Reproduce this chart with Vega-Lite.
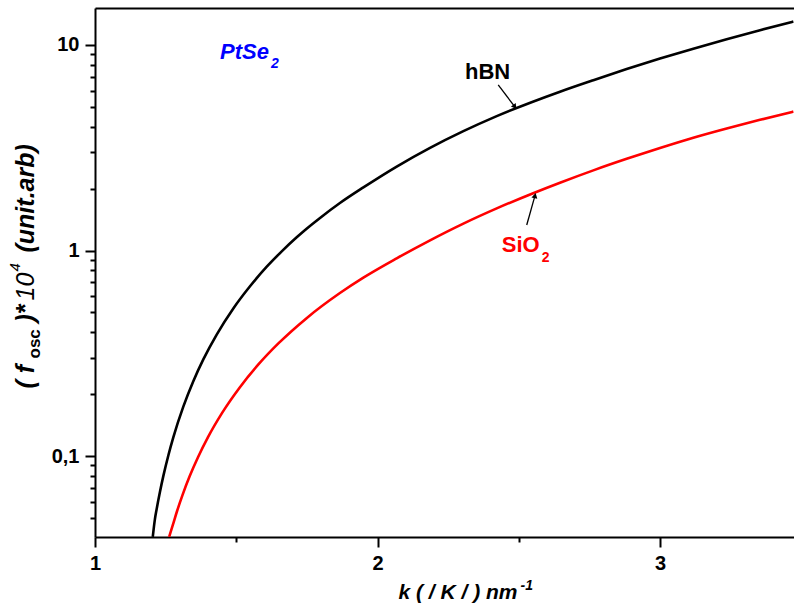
{
  "$schema": "https://vega.github.io/schema/vega-lite/v6.json",
  "autosize": {"type": "none"},
  "padding": {"left": 95, "top": 8, "right": 0, "bottom": 79},
  "width": 699,
  "height": 529,
  "background": "white",
  "config": {"view": {"stroke": null}, "font": "Liberation Sans"},
  "datasets": {
    "curves": [
      {"series": "hBN", "k": 1.2045, "f": 0.04046},
      {"series": "hBN", "k": 1.212, "f": 0.0492},
      {"series": "hBN", "k": 1.218, "f": 0.05495},
      {"series": "hBN", "k": 1.230, "f": 0.06699},
      {"series": "hBN", "k": 1.2418, "f": 0.0798},
      {"series": "hBN", "k": 1.260, "f": 0.1012},
      {"series": "hBN", "k": 1.2772, "f": 0.1232},
      {"series": "hBN", "k": 1.3126, "f": 0.1738},
      {"series": "hBN", "k": 1.348, "f": 0.2312},
      {"series": "hBN", "k": 1.3834, "f": 0.2951},
      {"series": "hBN", "k": 1.4308, "f": 0.3899},
      {"series": "hBN", "k": 1.4896, "f": 0.5224},
      {"series": "hBN", "k": 1.5487, "f": 0.6699},
      {"series": "hBN", "k": 1.608, "f": 0.8337},
      {"series": "hBN", "k": 1.661, "f": 0.9908},
      {"series": "hBN", "k": 1.714, "f": 1.159},
      {"series": "hBN", "k": 1.749, "f": 1.276},
      {"series": "hBN", "k": 1.800, "f": 1.452},
      {"series": "hBN", "k": 1.867, "f": 1.702},
      {"series": "hBN", "k": 1.950, "f": 2.028},
      {"series": "hBN", "k": 2.068, "f": 2.562},
      {"series": "hBN", "k": 2.186, "f": 3.159},
      {"series": "hBN", "k": 2.304, "f": 3.809},
      {"series": "hBN", "k": 2.422, "f": 4.508},
      {"series": "hBN", "k": 2.646, "f": 5.929},
      {"series": "hBN", "k": 2.764, "f": 6.745},
      {"series": "hBN", "k": 2.882, "f": 7.638},
      {"series": "hBN", "k": 3.000, "f": 8.590},
      {"series": "hBN", "k": 3.118, "f": 9.594},
      {"series": "hBN", "k": 3.236, "f": 10.67},
      {"series": "hBN", "k": 3.354, "f": 11.80},
      {"series": "hBN", "k": 3.472, "f": 13.00},
      {"series": "SiO2", "k": 1.2625, "f": 0.04046},
      {"series": "SiO2", "k": 1.275, "f": 0.04592},
      {"series": "SiO2", "k": 1.290, "f": 0.0537},
      {"series": "SiO2", "k": 1.310, "f": 0.06471},
      {"series": "SiO2", "k": 1.335, "f": 0.07962},
      {"series": "SiO2", "k": 1.365, "f": 0.09886},
      {"series": "SiO2", "k": 1.400, "f": 0.1236},
      {"series": "SiO2", "k": 1.450, "f": 0.1622},
      {"series": "SiO2", "k": 1.513, "f": 0.2163},
      {"series": "SiO2", "k": 1.580, "f": 0.2805},
      {"series": "SiO2", "k": 1.650, "f": 0.3540},
      {"series": "SiO2", "k": 1.749, "f": 0.4688},
      {"series": "SiO2", "k": 1.867, "f": 0.6209},
      {"series": "SiO2", "k": 1.950, "f": 0.7379},
      {"series": "SiO2", "k": 2.068, "f": 0.9162},
      {"series": "SiO2", "k": 2.186, "f": 1.121},
      {"series": "SiO2", "k": 2.304, "f": 1.352},
      {"series": "SiO2", "k": 2.422, "f": 1.603},
      {"series": "SiO2", "k": 2.551, "f": 1.901},
      {"series": "SiO2", "k": 2.646, "f": 2.138},
      {"series": "SiO2", "k": 2.764, "f": 2.455},
      {"series": "SiO2", "k": 2.882, "f": 2.793},
      {"series": "SiO2", "k": 3.000, "f": 3.155},
      {"series": "SiO2", "k": 3.118, "f": 3.540},
      {"series": "SiO2", "k": 3.236, "f": 3.926},
      {"series": "SiO2", "k": 3.354, "f": 4.325},
      {"series": "SiO2", "k": 3.472, "f": 4.742}
    ],
    "arrows": [
      {"series": "hBN", "k0": 2.4273, "f0": 6.39, "k1": 2.4863, "f1": 5.00},
      {"series": "SiO2", "k0": 2.5282, "f0": 1.331, "k1": 2.5575, "f1": 1.85}
    ],
    "labels": [
      {"series": "hBN", "k": 2.3097, "f": 6.83, "text": "hBN"},
      {"series": "SiO2", "k": 2.4397, "f": 0.987, "text": "SiO"}
    ],
    "ptse": [
      {"part": "main", "k": 1.4425, "f": 8.55, "text": "PtSe"},
      {"part": "sub", "k": 1.6230, "f": 7.73, "text": "2"}
    ],
    "sio_sub": [
      {"series": "SiO2", "k": 2.581, "f": 0.882, "text": "2"}
    ]
  },
  "resolve": {"axis": {"x": "independent", "y": "independent"}},
  "layer": [
    {
      "data": {"name": "curves"},
      "mark": {"type": "line", "strokeWidth": 2.6, "interpolate": "monotone", "clip": true},
      "encoding": {
        "x": {
          "field": "k", "type": "quantitative",
          "scale": {"domain": [1, 3.4743], "nice": false, "zero": false},
          "axis": {
            "orient": "bottom", "values": [1, 2, 3], "format": "d",
            "tickSize": 10, "tickWidth": 2, "tickColor": "black",
            "domainWidth": 2, "domainColor": "black", "grid": false,
            "labelFont": "Liberation Sans", "labelFontSize": 20, "labelFontWeight": "bold",
            "labelColor": "black", "labelPadding": 6, "labelFlush": false,
            "title": "k ( / K / ) nm", "titleX": 303, "titleY": 61,
            "titleAlign": "left", "titleBaseline": "alphabetic", "titleAngle": 0,
            "titleFont": "Liberation Sans", "titleFontSize": 21, "titleFontWeight": "bold",
            "titleFontStyle": "italic", "titleColor": "black"
          }
        },
        "y": {
          "field": "f", "type": "quantitative",
          "scale": {"type": "log", "domain": [0.04036, 15.137], "nice": false},
          "axis": {
            "orient": "left", "values": [0.1, 1, 10],
            "labelExpr": "replace(format(datum.value, '~g'), '.', ',')",
            "tickSize": 10, "tickWidth": 2, "tickColor": "black",
            "domainWidth": 2, "domainColor": "black", "grid": false,
            "labelFont": "Liberation Sans", "labelFontSize": 20, "labelFontWeight": "bold",
            "labelColor": "black", "labelPadding": 6,
            "title": "( f", "titleX": -62, "titleY": 380, "titleAngle": 270,
            "titleAlign": "left", "titleBaseline": "alphabetic",
            "titleFont": "Liberation Sans", "titleFontSize": 25, "titleFontWeight": "bold",
            "titleFontStyle": "italic", "titleColor": "black"
          }
        },
        "color": {
          "field": "series", "type": "nominal",
          "scale": {"domain": ["hBN", "SiO2"], "range": ["#000000", "#ff0000"]},
          "legend": null
        }
      }
    },
    {
      "data": {"name": "arrows"},
      "mark": {"type": "rule", "color": "black", "strokeWidth": 1.3},
      "encoding": {
        "x": {
          "field": "k0", "type": "quantitative",
          "scale": {"domain": [1, 3.4743], "nice": false, "zero": false},
          "axis": {
            "orient": "bottom", "values": [1.5, 2.5], "tickSize": 5, "tickWidth": 2,
            "tickColor": "black", "domain": false, "labels": false, "grid": false,
            "title": "-1", "titleX": 425, "titleY": 52, "titleAngle": 0,
            "titleAlign": "left", "titleBaseline": "alphabetic",
            "titleFont": "Liberation Sans", "titleFontSize": 14, "titleFontWeight": "bold",
            "titleFontStyle": "italic", "titleColor": "black"
          }
        },
        "y": {
          "field": "f0", "type": "quantitative",
          "scale": {"type": "log", "domain": [0.04036, 15.137], "nice": false},
          "axis": {
            "orient": "left",
            "values": [0.05, 0.06, 0.07, 0.08, 0.09, 0.2, 0.3, 0.4, 0.5, 0.6, 0.7, 0.8, 0.9, 2, 3, 4, 5, 6, 7, 8, 9],
            "tickSize": 5, "tickWidth": 2, "tickColor": "black",
            "domain": false, "labels": false, "grid": false,
            "title": "osc", "titleX": -56, "titleY": 350, "titleAngle": 270,
            "titleAlign": "left", "titleBaseline": "alphabetic",
            "titleFont": "Liberation Sans", "titleFontSize": 17, "titleFontWeight": "bold",
            "titleFontStyle": "normal", "titleColor": "black"
          }
        },
        "x2": {"field": "k1"},
        "y2": {"field": "f1"}
      }
    },
    {
      "data": {"name": "arrows"},
      "mark": {"type": "point", "shape": "triangle-up", "filled": true, "color": "black", "opacity": 1, "size": 36},
      "encoding": {
        "x": {
          "field": "k1", "type": "quantitative",
          "scale": {"domain": [1, 3.4743], "nice": false, "zero": false},
          "axis": {
            "orient": "top", "domain": true, "domainWidth": 2, "domainColor": "black",
            "ticks": false, "labels": false, "grid": false, "title": null
          }
        },
        "y": {
          "field": "f1", "type": "quantitative",
          "scale": {"type": "log", "domain": [0.04036, 15.137], "nice": false},
          "axis": {
            "orient": "left", "domain": false, "ticks": false, "labels": false, "grid": false,
            "title": ")*", "titleX": -62, "titleY": 314, "titleAngle": 270,
            "titleAlign": "left", "titleBaseline": "alphabetic",
            "titleFont": "Liberation Sans", "titleFontSize": 25, "titleFontWeight": "bold",
            "titleFontStyle": "italic", "titleColor": "black"
          }
        },
        "angle": {
          "condition": {"test": "datum.series === 'hBN'", "value": 143},
          "value": 14
        }
      }
    },
    {
      "data": {"name": "labels"},
      "mark": {"type": "text", "align": "left", "baseline": "alphabetic", "font": "Liberation Sans", "fontSize": 22, "fontWeight": "bold"},
      "encoding": {
        "x": {"field": "k", "type": "quantitative", "scale": {"domain": [1, 3.4743], "nice": false, "zero": false}, "axis": null},
        "y": {
          "field": "f", "type": "quantitative",
          "scale": {"type": "log", "domain": [0.04036, 15.137], "nice": false},
          "axis": {
            "orient": "left", "domain": false, "ticks": false, "labels": false, "grid": false,
            "title": "10", "titleX": -62, "titleY": 292, "titleAngle": 270,
            "titleAlign": "left", "titleBaseline": "alphabetic",
            "titleFont": "Liberation Sans", "titleFontSize": 25, "titleFontWeight": "normal",
            "titleFontStyle": "italic", "titleColor": "black"
          }
        },
        "text": {"field": "text"},
        "color": {
          "field": "series", "type": "nominal",
          "scale": {"domain": ["hBN", "SiO2"], "range": ["#000000", "#ff0000"]},
          "legend": null
        }
      }
    },
    {
      "data": {"name": "ptse"},
      "mark": {"type": "text", "align": "left", "baseline": "alphabetic", "font": "Liberation Sans", "fontWeight": "bold", "fontStyle": "italic", "color": "#0000ff"},
      "encoding": {
        "x": {"field": "k", "type": "quantitative", "scale": {"domain": [1, 3.4743], "nice": false, "zero": false}, "axis": null},
        "y": {
          "field": "f", "type": "quantitative",
          "scale": {"type": "log", "domain": [0.04036, 15.137], "nice": false},
          "axis": {
            "orient": "left", "domain": false, "ticks": false, "labels": false, "grid": false,
            "title": "4", "titleX": -76, "titleY": 263, "titleAngle": 270,
            "titleAlign": "left", "titleBaseline": "alphabetic",
            "titleFont": "Liberation Sans", "titleFontSize": 15, "titleFontWeight": "normal",
            "titleFontStyle": "italic", "titleColor": "black"
          }
        },
        "text": {"field": "text"},
        "size": {"condition": {"test": "datum.part === 'sub'", "value": 14}, "value": 22}
      }
    },
    {
      "data": {"name": "sio_sub"},
      "mark": {"type": "text", "align": "left", "baseline": "alphabetic", "font": "Liberation Sans", "fontSize": 14, "fontWeight": "bold", "color": "#ff0000"},
      "encoding": {
        "x": {"field": "k", "type": "quantitative", "scale": {"domain": [1, 3.4743], "nice": false, "zero": false}, "axis": null},
        "y": {
          "field": "f", "type": "quantitative",
          "scale": {"type": "log", "domain": [0.04036, 15.137], "nice": false},
          "axis": {
            "orient": "left", "domain": false, "ticks": false, "labels": false, "grid": false,
            "title": "(unit.arb)", "titleX": -62, "titleY": 244, "titleAngle": 270,
            "titleAlign": "left", "titleBaseline": "alphabetic",
            "titleFont": "Liberation Sans", "titleFontSize": 25, "titleFontWeight": "bold",
            "titleFontStyle": "italic", "titleColor": "black"
          }
        },
        "text": {"field": "text"}
      }
    }
  ]
}
